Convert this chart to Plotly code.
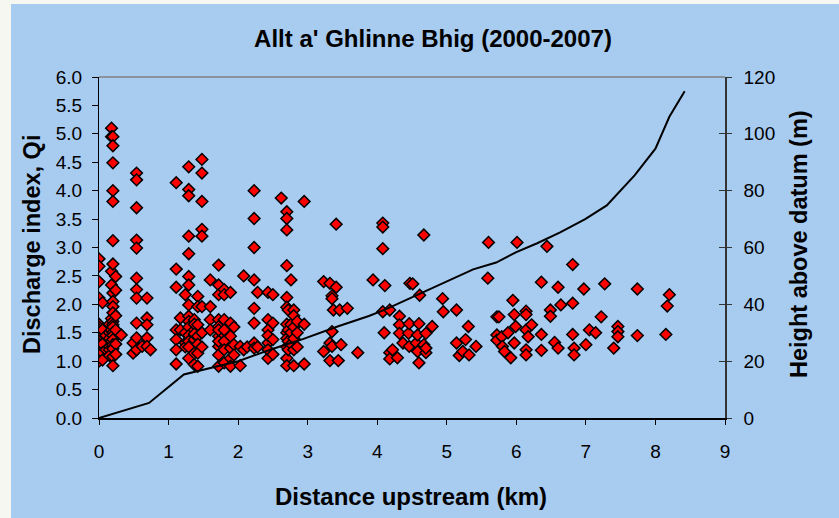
import plotly.graph_objects as go

# ---- data ----
distance_km = (
    [0.00] * 18 + [0.05] * 5 + [0.10] * 2 + [0.15] * 6 + [0.18] * 7 + [0.20] * 21 + [0.24] * 6
    + [0.32] + [0.49] * 2 + [0.54] * 11 + [0.62] + [0.69] * 5 + [0.74]
    + [1.11] * 7 + [1.17] * 2 + [1.24] * 4 + [1.29] * 15 + [1.37] * 7 + [1.42] * 7 + [1.48] * 8
    + [1.60] * 4 + [1.72] * 11 + [1.80] * 7 + [1.89] * 6 + [1.94] * 3
    + [2.03] * 2 + [2.08] * 2 + [2.13] + [2.23] * 8 + [2.28] * 2 + [2.43] * 7 + [2.50] * 4
    + [2.62] + [2.70] * 12 + [2.72] * 4 + [2.76] * 4 + [2.80] * 6 + [2.85] * 3 + [2.95] * 3
    + [3.23] * 2 + [3.32] * 3 + [3.35] * 4 + [3.37] + [3.41] * 2 + [3.44] + [3.46] + [3.48]
    + [3.57] + [3.72] + [3.94]
    + [4.08] * 4 + [4.10] + [4.11] + [4.18] * 3 + [4.22] + [4.29] + [4.32] * 3 + [4.37]
    + [4.45] + [4.46] * 2 + [4.47] + [4.51] + [4.56] + [4.58] * 2 + [4.60] * 2 + [4.61]
    + [4.67] * 2 + [4.70] * 3 + [4.79] + [4.94] + [4.95]
    + [5.14] * 2 + [5.18] + [5.23] + [5.27] + [5.31] + [5.32] + [5.42]
    + [5.59] + [5.60] + [5.72] * 3 + [5.75] + [5.79] + [5.80] + [5.83] + [5.88] + [5.92]
    + [5.95] + [5.97] * 2 + [5.99] + [6.01]
    + [6.14] * 5 + [6.17] + [6.22] + [6.36] * 3 + [6.44] + [6.49] * 2 + [6.55] + [6.60] * 2
    + [6.64] + [6.81] * 3 + [6.83] * 2 + [6.97] + [7.00] + [7.05] + [7.14] + [7.22] + [7.27]
    + [7.40] + [7.46] * 3 + [7.74] * 2 + [8.15] + [8.17] + [8.20]
)

discharge_qi = [
    # 0.00
    2.80, 2.67, 2.40, 2.11, 1.65, 1.60, 1.55, 1.50, 1.45, 1.40, 1.35, 1.30, 1.25, 1.20, 1.15, 1.10, 1.05, 1.00,
    2.03, 1.55, 1.30, 1.15, 1.02,
    1.45, 1.20,
    1.65, 1.50, 1.40, 1.25, 1.20, 1.10,
    5.10, 4.95, 2.58, 2.34, 1.75, 1.55, 1.35,
    4.95, 4.79, 4.49, 4.00, 3.81, 3.12, 2.71, 2.20, 2.05, 1.96, 1.85, 1.70, 1.64, 1.60, 1.50, 1.45, 1.38, 1.29,
    1.22, 1.08, 0.92,
    2.49, 2.25, 1.80, 1.55, 1.30, 1.12,
    1.46,
    1.32, 1.14,
    4.31, 4.19, 3.70, 3.13, 2.99, 2.46, 2.26, 2.11, 1.67, 1.41, 1.20,
    1.26,
    2.11, 1.76, 1.64, 1.41, 1.26,
    1.20,
    # 1.x
    4.14, 2.62, 2.30, 1.55, 1.38, 1.20, 0.95,
    1.76, 1.55,
    2.17, 1.50, 1.32, 1.25,
    4.42, 4.02, 3.91, 3.20, 2.89, 2.49, 2.34, 1.99, 1.79, 1.70, 1.60, 1.45, 1.35, 1.25, 1.05,
    1.73, 1.55, 1.38, 1.14, 0.94, 1.65, 1.48,
    2.14, 1.96, 1.64, 1.44, 1.30, 1.14, 0.91,
    4.55, 4.31, 3.81, 3.32, 3.20, 1.96, 1.50, 1.25,
    2.43, 1.96, 1.73, 1.55,
    2.69, 2.34, 2.17, 1.73, 1.61, 1.44, 1.26, 1.11, 0.91, 1.35, 1.55,
    2.26, 2.17, 1.73, 1.55, 1.35, 1.20, 0.97,
    2.21, 1.67, 1.44, 1.23, 1.05, 0.91,
    1.60, 1.29, 1.11,
    # 2.x
    1.26, 0.92,
    2.50, 1.20,
    1.25,
    4.00, 3.51, 3.00, 2.43, 1.93, 1.67, 1.32, 1.23,
    2.21, 1.25,
    2.21, 1.73, 1.55, 1.32, 1.05, 1.45, 1.20,
    2.17, 1.67, 1.38, 1.12,
    3.87,
    3.63, 3.51, 3.31, 2.68, 2.12, 1.95, 1.65, 1.50, 1.40, 1.25, 1.05, 0.92,
    1.90, 1.55, 1.35, 1.20,
    2.43, 1.65, 1.50, 1.30,
    1.90, 1.80, 1.60, 1.40, 1.20, 0.92,
    1.70, 1.50, 1.25,
    3.81, 1.65, 0.95,
    # 3.x
    2.40, 1.17,
    2.37, 1.32, 1.01,
    2.15, 2.10, 1.52, 1.26,
    1.90,
    3.41, 2.30,
    1.01,
    1.90,
    1.29,
    1.93,
    1.15,
    2.43,
    # 4.x
    3.43, 3.36, 2.98, 1.87,
    1.50,
    2.33,
    1.90, 1.15, 1.04,
    1.20,
    1.06,
    1.79, 1.64, 1.49,
    1.32,
    1.49,
    1.66, 1.26,
    2.37,
    2.36,
    1.32,
    1.46, 1.17,
    1.66, 0.97,
    2.16,
    3.22, 1.29,
    1.49, 1.15, 1.23,
    1.61,
    2.10,
    1.87,
    # 5.x
    1.90, 1.32,
    1.10,
    1.17,
    1.38,
    1.61,
    1.11,
    1.26,
    2.46,
    3.09,
    1.78, 1.46, 1.37,
    1.78,
    1.43,
    1.26,
    1.17,
    1.50,
    1.06,
    2.07,
    1.82, 1.32,
    1.61,
    3.09,
    # 6.x - 8.x
    1.88, 1.82, 1.55, 1.20, 1.11,
    1.43,
    1.64,
    2.39, 1.47, 1.19,
    3.02,
    1.90, 1.79,
    1.33,
    2.30, 1.23,
    1.99,
    2.70, 2.02, 1.47,
    1.23, 1.11,
    2.27,
    1.29,
    1.55,
    1.50,
    1.78,
    2.36,
    1.23,
    1.61, 1.52, 1.43,
    2.27, 1.45,
    1.47,
    1.97,
    2.17,
]

profile_km = [0, 0.72, 1.22, 1.71, 2.0, 2.47, 2.91, 3.44, 3.88, 4.12, 4.6, 5.0, 5.38,
              5.71, 6.0, 6.3, 6.63, 6.99, 7.3, 7.7, 8.0, 8.2, 8.42]
profile_height_m = [0, 5.3, 15.3, 18.2, 20, 24.1, 27.6, 32.3, 35.9, 38.2, 43.5, 48, 52.3,
                    54.7, 58.4, 61.5, 65.3, 70, 74.8, 85.4, 94.8, 106, 115]

title_text = "Allt a' Ghlinne Bhig (2000-2007)"
x_title = "Distance upstream (km)"
y_title = "Discharge index, Qi"
y2_title = "Height above datum (m)"

BLUE = "#A8CBF0"
FONT = "Liberation Sans, Arial, sans-serif"

fig = go.Figure()
fig.add_trace(go.Scatter(
    x=distance_km, y=discharge_qi, mode="markers",
    marker=dict(symbol="diamond", size=9, color="#FF0000",
                line=dict(color="#000000", width=1.5)),
    showlegend=False, hoverinfo="skip"))
fig.add_trace(go.Scatter(
    x=profile_km, y=profile_height_m, mode="lines", yaxis="y2",
    line=dict(color="#000000", width=2), showlegend=False, hoverinfo="skip"))
fig.add_trace(go.Scatter(x=[], y=[], yaxis="y3", showlegend=False, hoverinfo="skip"))

W, H = 839, 518
L, R, T, B = 99, 114, 77, 100
pw, ph = W - L - R, H - T - B

def px_x(p):
    return (p - L) / pw

def px_y(p):
    return (H - B - p) / ph

fig.update_layout(
    width=W, height=H,
    margin=dict(l=L, r=R, t=T, b=B, pad=0),
    paper_bgcolor="#F7F7F2",
    plot_bgcolor=BLUE,
    font=dict(family=FONT, color="#000000", size=19),
    title=dict(text=f"<b>{title_text}</b>", x=433 / W, xanchor="center",
               y=1 - 39 / H, yanchor="middle", font=dict(size=24, family=FONT)),
    xaxis=dict(range=[0, 9], dtick=1, tick0=0, showgrid=False, zeroline=False,
               showline=True, linecolor="#000000", linewidth=1.5,
               ticks="outside", ticklen=5, tickwidth=1, tickcolor="#000000",
               tickfont=dict(size=19), ticklabelstandoff=10),
    yaxis=dict(range=[0, 6], dtick=0.5, tick0=0, tickformat=".1f", showgrid=False,
               zeroline=False, showline=True, linecolor="#000000", linewidth=1.3,
               ticks="outside", ticklen=6, tickwidth=1, tickcolor="#000000",
               tickfont=dict(size=19), ticklabelstandoff=6),
    yaxis2=dict(range=[0, 120], dtick=20, tick0=0, overlaying="y", side="right",
                showgrid=False, zeroline=False, showline=True, linecolor="#333333",
                linewidth=1.5, ticks="outside", ticklen=5, tickwidth=1,
                tickcolor="#333333", tickfont=dict(size=19), ticklabelstandoff=8),
    yaxis3=dict(range=[0, 120], dtick=20, tick0=0, overlaying="y", side="right",
                anchor="x", showgrid=False, zeroline=False, showline=False,
                ticks="inside", ticklen=6, tickwidth=1, tickcolor="#333333",
                showticklabels=False),
    shapes=[
        dict(type="rect", xref="paper", yref="paper", layer="below",
             x0=px_x(11), x1=px_x(W), y0=px_y(H), y1=px_y(4),
             fillcolor=BLUE, line=dict(width=0)),
        dict(type="line", xref="paper", yref="paper", x0=0, x1=1, y0=1, y1=1,
             line=dict(color="#808080", width=1.5)),
    ],
    annotations=[
        dict(text=f"<b>{x_title}</b>", xref="paper", yref="paper",
             x=px_x(411), y=px_y(496), xanchor="center", yanchor="middle",
             showarrow=False, font=dict(size=24, family=FONT)),
        dict(text=f"<b>{y_title}</b>", xref="paper", yref="paper",
             x=px_x(32), y=px_y(245), xanchor="center", yanchor="middle",
             textangle=-90, showarrow=False, font=dict(size=23.5, family=FONT)),
        dict(text=f"<b>{y2_title}</b>", xref="paper", yref="paper",
             x=px_x(799), y=px_y(244), xanchor="center", yanchor="middle",
             textangle=-90, showarrow=False, font=dict(size=23.5, family=FONT)),
    ],
)

fig.write_html("out.html")
